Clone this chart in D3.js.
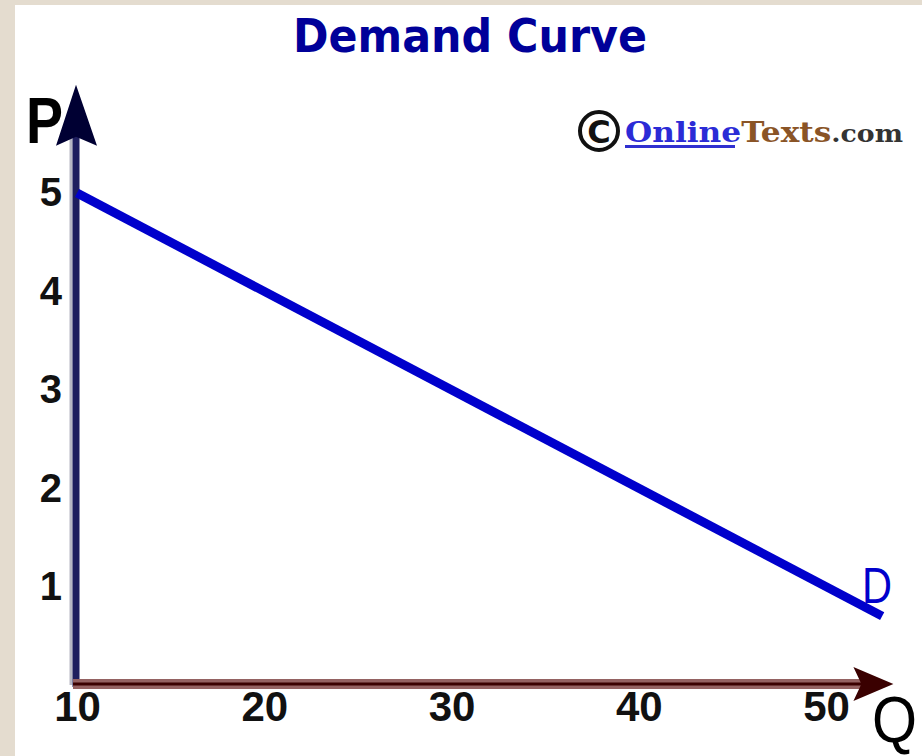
<!doctype html>
<html>
<head>
<style>
  body { margin: 0; background: #e4dccf; }
  svg { display: block; }
</style>
<script src="https://d3js.org/d3.v7.min.js"></script>
</head>
<body>
<svg width="922" height="756" id="chart"></svg>
<script>
    // data
    var demandQ = [10, 53];
    var demandP = [5, 0.7];
    var xTicks = [10, 20, 30, 40, 50];
    var yTicks = [1, 2, 3, 4, 5];

    var svg = d3.select("#chart");

    // beige page with the white card
    svg.append("rect").attr("width", 922).attr("height", 756).attr("fill", "#e4dccf");
    svg.append("rect").attr("x", 15).attr("y", 5).attr("width", 907).attr("height", 751).attr("fill", "#fff");

    var x = d3.scaleLinear().domain([10, 50]).range([77, 826]);
    var y = d3.scaleLinear().domain([0, 5]).range([685, 193]);

    // title
    svg.append("text")
       .attr("x", 470).attr("y", 52)
       .attr("text-anchor", "middle")
       .attr("font-family", "DejaVu Sans")
       .attr("font-weight", "bold")
       .attr("font-size", 46)
       .attr("fill", "#000099")
       .attr("textLength", 354)
       .attr("lengthAdjust", "spacingAndGlyphs")
       .text("Demand Curve");

    // watermark
    var wm = svg.append("g");
    wm.append("circle").attr("cx", 599).attr("cy", 131).attr("r", 19)
      .attr("fill", "none").attr("stroke", "#111").attr("stroke-width", 4);
    wm.append("text").attr("x", 599).attr("y", 143).attr("text-anchor", "middle")
      .attr("font-family", "DejaVu Sans").attr("font-weight", "bold").attr("font-size", 32)
      .attr("fill", "#111").text("C");
    var wt = wm.append("text").attr("x", 625).attr("y", 142)
      .attr("font-family", "DejaVu Serif").attr("font-weight", "bold").attr("font-size", 28)
      .attr("textLength", 278).attr("lengthAdjust", "spacingAndGlyphs");
    wt.append("tspan").attr("fill", "#2b2bd6").text("Online");
    wt.append("tspan").attr("fill", "#8a5426").text("Texts");
    wt.append("tspan").attr("fill", "#333").attr("font-size", 24).text(".com");
    wm.append("rect").attr("x", 625).attr("y", 145).attr("width", 110).attr("height", 3).attr("fill", "#3030d0");

    // y axis line with arrow
    var yAxisX = x(10) - 1;
    svg.append("line")
       .attr("x1", yAxisX - 5).attr("x2", yAxisX - 5)
       .attr("y1", y(6.1) + 50).attr("y2", y(0))
       .attr("stroke", "#b8b8c4").attr("stroke-width", 3);
    svg.append("line")
       .attr("x1", yAxisX).attr("x2", yAxisX)
       .attr("y1", y(6.1) + 50).attr("y2", y(0) + 2)
       .attr("stroke", "#1e1e5e").attr("stroke-width", 7);
    svg.append("path")
       .attr("d", "M" + yAxisX + "," + y(6.1) +
                  "L" + (yAxisX + 21) + "," + (y(6.1) + 61) +
                  "L" + yAxisX + "," + (y(6.1) + 52) +
                  "L" + (yAxisX - 20) + "," + (y(6.1) + 61) + "Z")
       .attr("fill", "#000033");

    // x axis line with arrow
    var xAxisY = y(0) - 1;
    svg.append("line")
       .attr("x1", yAxisX - 3).attr("x2", x(53.6) - 30)
       .attr("y1", xAxisY).attr("y2", xAxisY)
       .attr("stroke", "#946262").attr("stroke-width", 10);
    svg.append("line")
       .attr("x1", yAxisX - 3).attr("x2", x(53.6) - 30)
       .attr("y1", xAxisY).attr("y2", xAxisY)
       .attr("stroke", "#3a0000").attr("stroke-width", 3);
    svg.append("path")
       .attr("d", "M" + x(53.6) + "," + xAxisY +
                  "L" + (x(53.6) - 40) + "," + (xAxisY - 17) +
                  "L" + (x(53.6) - 32) + "," + xAxisY +
                  "L" + (x(53.6) - 40) + "," + (xAxisY + 17) + "Z")
       .attr("fill", "#3a0000");

    // tick labels through d3 axes
    var gx = svg.append("g")
       .attr("transform", "translate(0," + xAxisY + ")")
       .call(d3.axisBottom(x).tickValues(xTicks).tickFormat(d3.format("d")).tickSize(0).tickPadding(7));
    gx.select(".domain").remove();
    gx.selectAll("text")
      .attr("font-family", "Liberation Sans, Arial")
      .attr("font-weight", "bold")
      .attr("font-size", 42)
      .attr("fill", "#111");

    var gy = svg.append("g")
       .attr("transform", "translate(" + yAxisX + ",0)")
       .call(d3.axisLeft(y).tickValues(yTicks).tickFormat(d3.format("d")).tickSize(0).tickPadding(14));
    gy.select(".domain").remove();
    gy.selectAll("text")
      .attr("font-family", "Liberation Sans, Arial")
      .attr("font-weight", "bold")
      .attr("font-size", 40)
      .attr("fill", "#111");

    // demand line
    var line = d3.line()
       .x(function(d) { return x(d[0]); })
       .y(function(d) { return y(d[1]); });
    svg.append("path")
       .datum(d3.zip(demandQ, demandP))
       .attr("d", line)
       .attr("fill", "none")
       .attr("stroke", "#0000cc")
       .attr("stroke-width", 9);

    // axis and curve labels
    svg.append("text").attr("x", 26).attr("y", 143)
       .attr("font-family", "Liberation Sans, Arial").attr("font-size", 64)
       .attr("font-weight", "bold")
       .attr("textLength", 37).attr("lengthAdjust", "spacingAndGlyphs")
       .attr("fill", "#000").text("P");
    svg.append("text").attr("x", 872).attr("y", 742)
       .attr("font-family", "Liberation Sans, Arial").attr("font-size", 64)
       .attr("textLength", 45).attr("lengthAdjust", "spacingAndGlyphs")
       .attr("fill", "#000").text("Q");
    svg.append("text").attr("x", 862).attr("y", 603)
       .attr("font-family", "Liberation Sans, Arial").attr("font-size", 50)
       .attr("textLength", 30).attr("lengthAdjust", "spacingAndGlyphs")
       .attr("fill", "#0000cc").text("D");
</script>
</body>
</html>
